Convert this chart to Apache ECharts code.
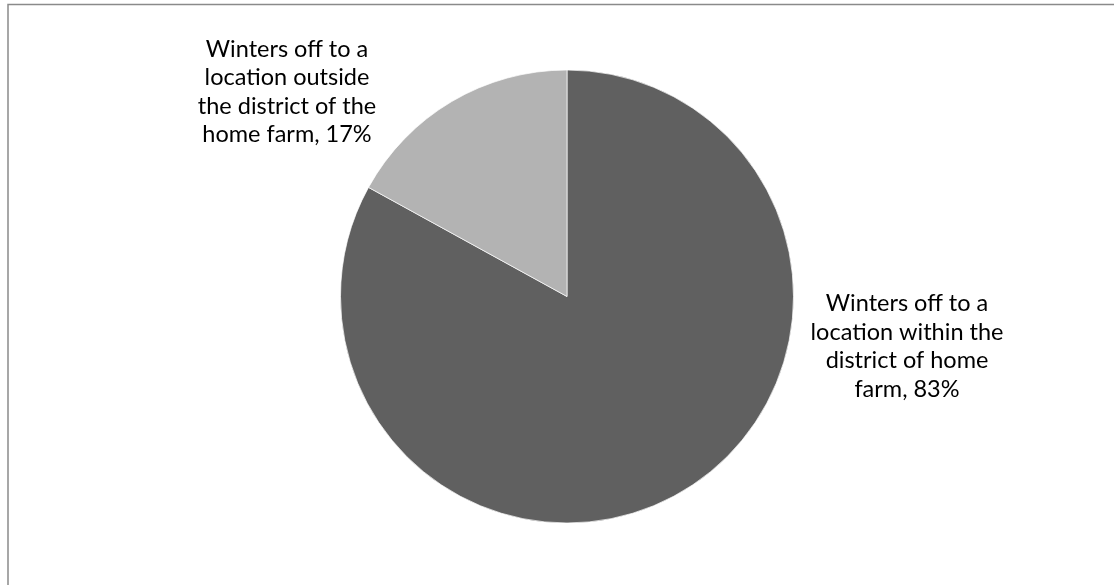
<!DOCTYPE html>
<html>
<head>
<meta charset="utf-8">
<script src="https://cdn.jsdelivr.net/npm/echarts@6/dist/echarts.min.js"></script>
<style>html,body{margin:0;padding:0;background:#fff}#c{width:1114px;height:585px}</style>
</head>
<body>
<div id="c"></div>
<script>
const categories = [
  "Winters off to a\nlocation within the\ndistrict of home\nfarm",
  "Winters off to a\nlocation outside\nthe district of the\nhome farm"
];
const values = [83, 17];
const colors = ["#606060", "#b3b3b3"];
const labelCenters = [[907, 346.5], [287, 92]];

const chart = echarts.init(document.getElementById('c'), null, {renderer: 'canvas'});
chart.setOption({
  animation: false,
  graphic: [{
    type: 'rect',
    shape: {x: 8, y: 4.5, width: 1200, height: 700},
    style: {fill: 'none', stroke: '#8a8a8a', lineWidth: 1.5},
    silent: true
  }],
  series: [{
    type: 'pie',
    center: [567, 296.5],
    radius: [0, 226.5],
    startAngle: 90,
    clockwise: true,
    data: categories.map((c, i) => ({name: c, value: values[i], itemStyle: {color: colors[i]}})),
    itemStyle: {borderColor: '#ffffff', borderWidth: 0.7},
    label: {
      show: true,
      position: 'outside',
      formatter: p => p.name + ', ' + p.value + '%',
      fontFamily: 'Lato',
      fontSize: 23.5,
      lineHeight: 28.5,
      color: '#000',
      align: 'center'
    },
    labelLine: {show: false},
    labelLayout: function (params) {
      const c = labelCenters[params.dataIndex];
      return {x: c[0], y: c[1], align: 'center', verticalAlign: 'middle'};
    },
    emphasis: {disabled: true}
  }]
});
</script>
</body>
</html>
